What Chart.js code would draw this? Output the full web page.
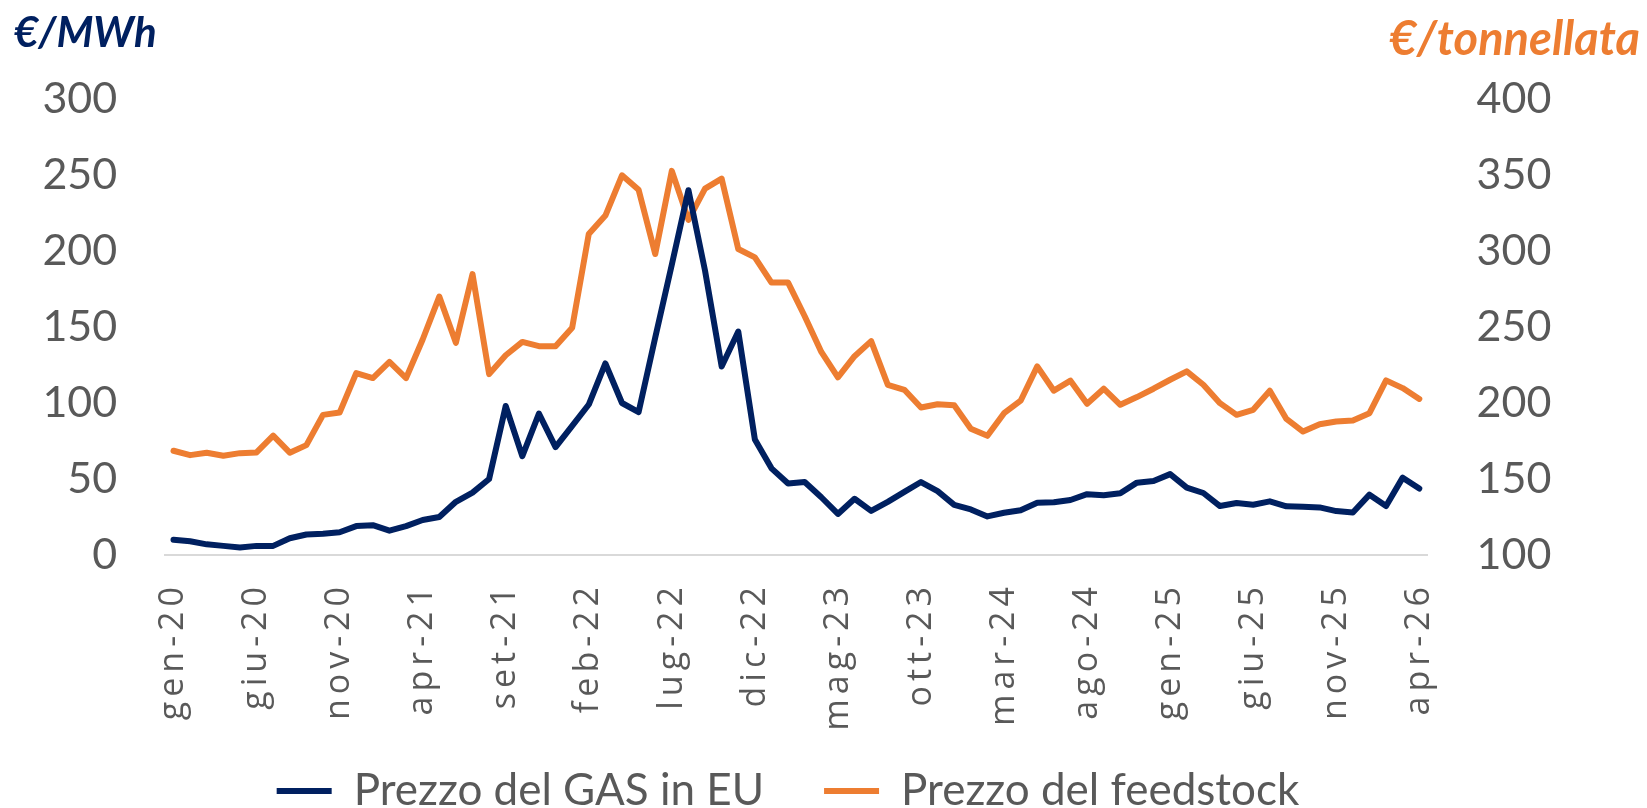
<!DOCTYPE html>
<html>
<head>
<meta charset="utf-8">
<script src="https://cdn.jsdelivr.net/npm/chart.js@4/dist/chart.umd.min.js"></script>
<style>
  html, body { margin: 0; padding: 0; background: #ffffff; }
  #wrap { width: 1647px; height: 808px; overflow: hidden; }
</style>
</head>
<body>
<div id="wrap"><canvas id="chart" width="1647" height="808"></canvas></div>
<script>
// monthly categories, gen-20 .. apr-26
const months = [
  'gen-20','feb-20','mar-20','apr-20','mag-20','giu-20','lug-20','ago-20','set-20','ott-20','nov-20','dic-20',
  'gen-21','feb-21','mar-21','apr-21','mag-21','giu-21','lug-21','ago-21','set-21','ott-21','nov-21','dic-21',
  'gen-22','feb-22','mar-22','apr-22','mag-22','giu-22','lug-22','ago-22','set-22','ott-22','nov-22','dic-22',
  'gen-23','feb-23','mar-23','apr-23','mag-23','giu-23','lug-23','ago-23','set-23','ott-23','nov-23','dic-23',
  'gen-24','feb-24','mar-24','apr-24','mag-24','giu-24','lug-24','ago-24','set-24','ott-24','nov-24','dic-24',
  'gen-25','feb-25','mar-25','apr-25','mag-25','giu-25','lug-25','ago-25','set-25','ott-25','nov-25','dic-25',
  'gen-26','feb-26','mar-26','apr-26'
];

// €/MWh (left axis)
const gasPrice = [
  10, 9, 7, 6, 5, 6, 6, 11, 13.5, 14, 15, 19,
  19.6, 16, 19, 23, 25, 35, 41, 50, 98, 65, 93, 71,
  85, 99, 126, 100, 94, 143, 191, 240, 187, 124, 147, 76,
  57, 47, 48, 38, 27, 37, 29, 35, 41.5, 48, 42, 33,
  30, 25.4, 27.8, 29.4, 34.4, 34.7, 36.2, 40, 39.3, 40.6, 47.6, 48.7,
  53.2, 44.3, 40.8, 32.2, 34.2, 33.1, 35.3, 32, 31.7, 31.3, 28.9, 28,
  39.7, 32.2, 50.9, 43.7
];

// €/tonnellata (right axis)
const feedstockPrice = [
  168.6, 165.7, 167.3, 165.3, 167, 167.5, 178.5, 167.3, 172.3, 192.2, 193.7, 219.7,
  216.4, 227, 216.4, 241.8, 270, 239.6, 284.8, 219, 231.4, 240.2, 237.4, 237.4,
  249.5, 311.2, 323.3, 349.8, 340.3, 298, 352.7, 320.5, 341, 347.6, 301.3, 295.8,
  279.2, 279.2, 257.1, 233.6, 216.9, 230.8, 240.7, 212, 208.7, 197, 199.2, 198.5,
  183, 178.4, 193.3, 201.5, 224.1, 208.1, 214.7, 199.5, 209.4, 198.8, 203.9, 209.4,
  215.3, 220.8, 212, 199.9, 192.2, 195.5, 208.1, 189.5, 181.2, 186, 187.8, 188.5,
  193.3, 214.9, 209.8, 202.7
];

const NAVY = '#002060';
const ORANGE = '#ED7D31';
const GREY = '#595959';
const FONT = 'Lato, "Open Sans", sans-serif';

// category axis: rotated labels with Excel-like letter spacing, not clipped to the axis box
class SpacedCategoryScale extends Chart.CategoryScale {
  _computeLabelArea() {
    return undefined;
  }
  drawLabels(chartArea) {
    this.ctx.save();
    this.ctx.letterSpacing = '5px';
    super.drawLabels(chartArea);
    this.ctx.restore();
  }
}
SpacedCategoryScale.id = 'spacedCategory';
SpacedCategoryScale.defaults = Chart.CategoryScale.defaults;
Chart.register(SpacedCategoryScale);

const unitTitles = {
  id: 'unitTitles',
  afterDraw(chart) {
    const c = chart.ctx;
    c.save();
    c.textBaseline = 'alphabetic';
    c.font = 'italic bold 42px ' + FONT;
    c.fillStyle = NAVY;
    c.textAlign = 'left';
    c.fillText('€/MWh', 14, 47);
    c.font = 'italic bold 47px ' + FONT;
    c.fillStyle = ORANGE;
    c.textAlign = 'right';
    c.fillText('€/tonnellata', 1640, 55);
    c.restore();
  }
};

const tickFont = { family: FONT, size: 43 };

new Chart(document.getElementById('chart'), {
  type: 'line',
  data: {
    labels: months,
    datasets: [
      {
        label: 'Prezzo del GAS in EU',
        data: gasPrice,
        yAxisID: 'y',
        borderColor: NAVY,
        backgroundColor: NAVY,
        borderWidth: 6,
        borderJoinStyle: 'round',
        borderCapStyle: 'round',
        pointRadius: 0,
        tension: 0
      },
      {
        label: 'Prezzo del feedstock',
        data: feedstockPrice,
        yAxisID: 'y1',
        borderColor: ORANGE,
        backgroundColor: ORANGE,
        borderWidth: 6,
        borderJoinStyle: 'round',
        borderCapStyle: 'round',
        pointRadius: 0,
        tension: 0
      }
    ]
  },
  options: {
    responsive: false,
    animation: false,
    devicePixelRatio: 1,
    layout: { padding: { top: 99, left: 0, right: 71, bottom: -15 } },
    scales: {
      x: {
        type: 'spacedCategory',
        offset: true,
        grid: { display: false, drawTicks: false },
        border: { display: true, color: '#d9d9d9', width: 2 },
        ticks: {
          autoSkip: false,
          minRotation: 90,
          maxRotation: 90,
          padding: 27,
          color: GREY,
          font: { family: '"Open Sans", Lato, sans-serif', size: 34 },
          callback(value, index) {
            return index % 5 === 0 ? this.getLabelForValue(value) : '';
          }
        },
        afterFit(scale) { scale.height = 154; }
      },
      y: {
        position: 'left',
        min: 0,
        max: 300,
        grid: { display: false, drawTicks: false },
        border: { display: false },
        ticks: { stepSize: 50, padding: 48, color: GREY, font: tickFont },
        afterFit(scale) { scale.width = 165.2; }
      },
      y1: {
        position: 'right',
        min: 100,
        max: 400,
        grid: { display: false, drawTicks: false },
        border: { display: false },
        ticks: { stepSize: 50, padding: 49, color: GREY, font: tickFont },
        afterFit(scale) { scale.width = 1576 - 1427.6; }
      }
    },
    plugins: {
      legend: {
        position: 'bottom',
        labels: {
          usePointStyle: true,
          pointStyle: 'line',
          pointStyleWidth: 55,
          padding: 60,
          color: GREY,
          font: { family: FONT, size: 44 }
        }
      },
      tooltip: { enabled: false }
    }
  },
  plugins: [unitTitles]
});
</script>
</body>
</html>
